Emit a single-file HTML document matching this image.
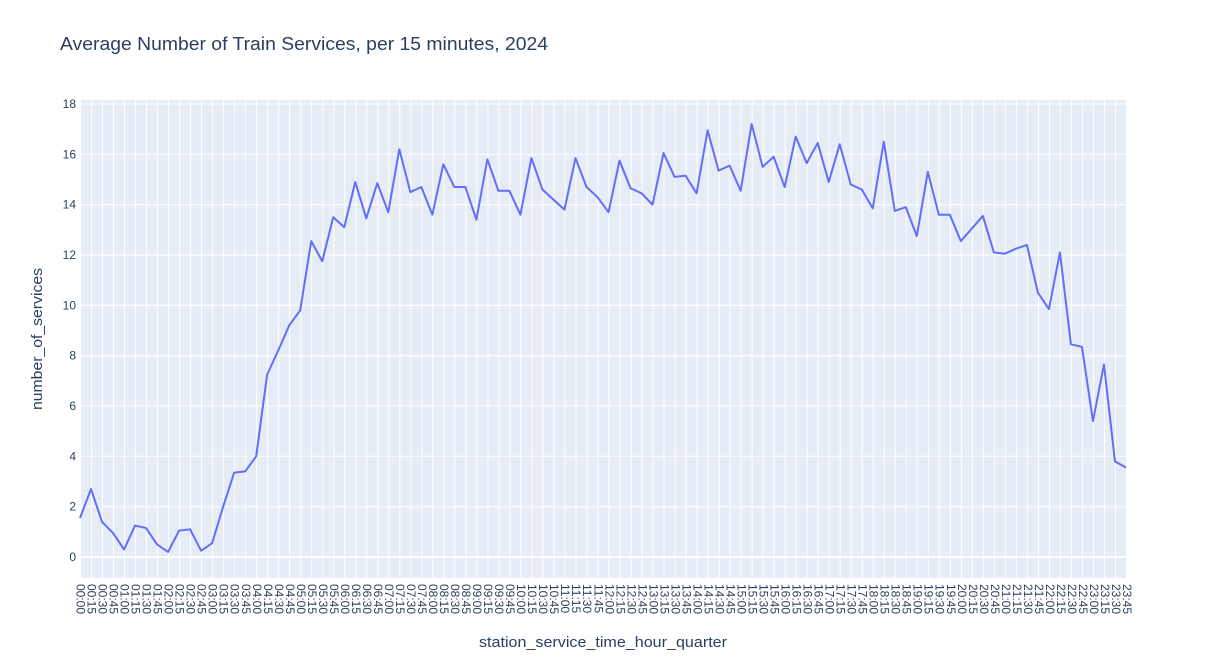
<!DOCTYPE html>
<html><head><meta charset="utf-8"><style>
body{margin:0;background:#fff;width:1206px;height:660px;position:relative;font-family:"Liberation Sans",Arial,sans-serif;color:#2a3f5f;overflow:hidden}
#xl{position:absolute;left:74.5px;top:584px;width:1057px;display:flex}
#xl span{flex:1;writing-mode:vertical-rl;font-size:12px;line-height:11px;text-align:left;display:flex;justify-content:center;align-items:flex-start}
</style></head><body>
<svg width="1206" height="660" style="position:absolute;left:0;top:0">
<defs><pattern id="vg" x="80" y="0" width="11.0105" height="10" patternUnits="userSpaceOnUse"><rect x="0" y="0" width="1" height="10" fill="#fff"/></pattern></defs>
<rect x="80" y="100" width="1046" height="478" fill="#E5ECF6"/>
<rect x="79.5" y="100" width="1048" height="478" fill="url(#vg)"/>
<g stroke="#fff" stroke-width="1">
<line x1="80" x2="1126" y1="506.7" y2="506.7"/><line x1="80" x2="1126" y1="456.3" y2="456.3"/><line x1="80" x2="1126" y1="406" y2="406"/><line x1="80" x2="1126" y1="355.7" y2="355.7"/><line x1="80" x2="1126" y1="305.3" y2="305.3"/><line x1="80" x2="1126" y1="255" y2="255"/><line x1="80" x2="1126" y1="204.7" y2="204.7"/><line x1="80" x2="1126" y1="154.3" y2="154.3"/><line x1="80" x2="1126" y1="104" y2="104"/>
<line x1="80" x2="1126" y1="557" y2="557" stroke-width="2"/>
</g>
<g transform="translate(80,557) scale(11.0105,-25.17)">
<polyline fill="none" stroke="#636EFA" stroke-width="2" vector-effect="non-scaling-stroke" stroke-linejoin="round" points="0,1.55 1,2.7 2,1.4 3,0.95 4,0.3 5,1.25 6,1.15 7,0.5 8,0.2 9,1.05 10,1.1 11,0.25 12,0.55 13,2.0 14,3.35 15,3.4 16,4.0 17,7.25 18,8.2 19,9.2 20,9.8 21,12.55 22,11.75 23,13.5 24,13.1 25,14.9 26,13.45 27,14.85 28,13.7 29,16.2 30,14.5 31,14.7 32,13.6 33,15.6 34,14.7 35,14.7 36,13.4 37,15.8 38,14.55 39,14.55 40,13.6 41,15.85 42,14.6 43,14.2 44,13.8 45,15.85 46,14.7 47,14.3 48,13.7 49,15.75 50,14.65 51,14.45 52,14.0 53,16.05 54,15.1 55,15.15 56,14.45 57,16.95 58,15.35 59,15.55 60,14.55 61,17.2 62,15.5 63,15.9 64,14.7 65,16.7 66,15.65 67,16.45 68,14.9 69,16.4 70,14.8 71,14.6 72,13.85 73,16.5 74,13.75 75,13.9 76,12.75 77,15.3 78,13.6 79,13.6 80,12.55 81,13.05 82,13.55 83,12.1 84,12.05 85,12.25 86,12.4 87,10.5 88,9.85 89,12.1 90,8.45 91,8.35 92,5.4 93,7.65 94,3.8 95,3.55"/>
</g>
<g font-size="12" fill="#2a3f5f" text-anchor="end">
<text x="76" y="561">0</text><text x="76" y="510.7">2</text><text x="76" y="460.3">4</text><text x="76" y="410">6</text><text x="76" y="359.7">8</text><text x="76" y="309.3">10</text><text x="76" y="259">12</text><text x="76" y="208.7">14</text><text x="76" y="158.3">16</text><text x="76" y="108">18</text>
</g>
<text x="60" y="50" font-size="18" fill="#2a3f5f" textLength="488" lengthAdjust="spacingAndGlyphs">Average Number of Train Services, per 15 minutes, 2024</text>
<text transform="translate(42,339) rotate(-90)" text-anchor="middle" font-size="15" fill="#2a3f5f" textLength="142" lengthAdjust="spacingAndGlyphs">number_of_services</text>
<text x="603" y="647" text-anchor="middle" font-size="15" fill="#2a3f5f" textLength="248" lengthAdjust="spacingAndGlyphs">station_service_time_hour_quarter</text>
</svg>
<div id="xl"><span>00:00</span><span>00:15</span><span>00:30</span><span>00:45</span><span>01:00</span><span>01:15</span><span>01:30</span><span>01:45</span><span>02:00</span><span>02:15</span><span>02:30</span><span>02:45</span><span>03:00</span><span>03:15</span><span>03:30</span><span>03:45</span><span>04:00</span><span>04:15</span><span>04:30</span><span>04:45</span><span>05:00</span><span>05:15</span><span>05:30</span><span>05:45</span><span>06:00</span><span>06:15</span><span>06:30</span><span>06:45</span><span>07:00</span><span>07:15</span><span>07:30</span><span>07:45</span><span>08:00</span><span>08:15</span><span>08:30</span><span>08:45</span><span>09:00</span><span>09:15</span><span>09:30</span><span>09:45</span><span>10:00</span><span>10:15</span><span>10:30</span><span>10:45</span><span>11:00</span><span>11:15</span><span>11:30</span><span>11:45</span><span>12:00</span><span>12:15</span><span>12:30</span><span>12:45</span><span>13:00</span><span>13:15</span><span>13:30</span><span>13:45</span><span>14:00</span><span>14:15</span><span>14:30</span><span>14:45</span><span>15:00</span><span>15:15</span><span>15:30</span><span>15:45</span><span>16:00</span><span>16:15</span><span>16:30</span><span>16:45</span><span>17:00</span><span>17:15</span><span>17:30</span><span>17:45</span><span>18:00</span><span>18:15</span><span>18:30</span><span>18:45</span><span>19:00</span><span>19:15</span><span>19:30</span><span>19:45</span><span>20:00</span><span>20:15</span><span>20:30</span><span>20:45</span><span>21:00</span><span>21:15</span><span>21:30</span><span>21:45</span><span>22:00</span><span>22:15</span><span>22:30</span><span>22:45</span><span>23:00</span><span>23:15</span><span>23:30</span><span>23:45</span></div>
</body></html>
